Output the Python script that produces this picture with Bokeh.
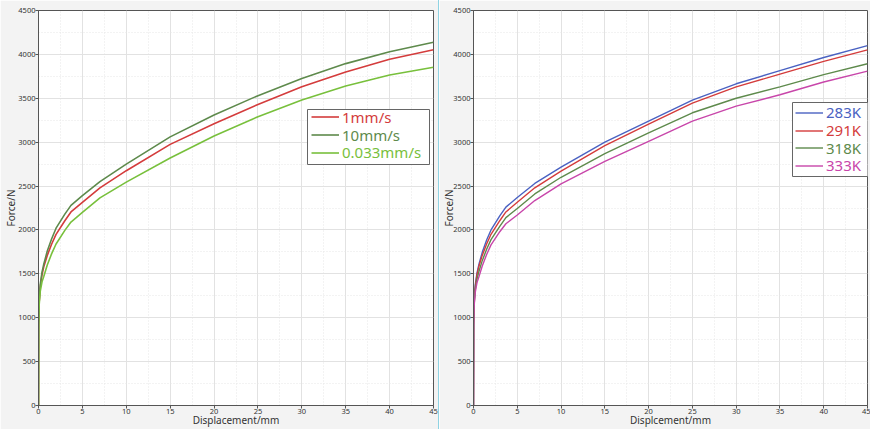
from bokeh.plotting import figure
from bokeh.models import Legend, LegendItem, FixedTicker, Range1d, Div, BoxAnnotation
from bokeh.layouts import row
from bokeh.embed import file_html
from bokeh.resources import INLINE

# ---------------- data ----------------
disp = [0, 0.02, 0.08, 0.2, 0.4, 0.6, 1, 1.5, 2, 3, 3.7, 5, 7, 10, 15, 20, 25, 30, 35, 40, 45]

# left panel: loading rates
f_1mm = [0, 930, 1180, 1350, 1490, 1580, 1710, 1840, 1950, 2105, 2205, 2315, 2480, 2675, 2975, 3210, 3430, 3630, 3800, 3945, 4052]
f_10mm = [0, 950, 1200, 1380, 1520, 1610, 1760, 1900, 2020, 2180, 2280, 2390, 2550, 2750, 3060, 3310, 3530, 3725, 3895, 4030, 4139]
f_0033mm = [0, 900, 1150, 1300, 1410, 1470, 1600, 1730, 1840, 1995, 2090, 2200, 2365, 2545, 2820, 3070, 3290, 3480, 3640, 3765, 3854]
rate_labels = ["1mm/s", "10mm/s", "0.033mm/s"]

# right panel: temperatures
f_283 = [0, 950, 1200, 1375, 1510, 1600, 1745, 1885, 2000, 2160, 2260, 2370, 2530, 2715, 3000, 3240, 3480, 3665, 3815, 3965, 4100]
f_291 = [0, 930, 1180, 1350, 1490, 1580, 1710, 1840, 1950, 2105, 2205, 2315, 2480, 2670, 2960, 3205, 3445, 3630, 3775, 3920, 4052]
f_318 = [0, 920, 1160, 1320, 1440, 1520, 1650, 1780, 1890, 2040, 2140, 2245, 2410, 2600, 2870, 3105, 3335, 3500, 3630, 3770, 3893]
f_333 = [0, 900, 1140, 1290, 1400, 1460, 1590, 1720, 1830, 1980, 2070, 2170, 2335, 2525, 2780, 3010, 3240, 3410, 3540, 3685, 3809]
temp_labels = ["283K", "291K", "318K", "333K"]

x_ticks = [0, 5, 10, 15, 20, 25, 30, 35, 40, 45]
x_minor = [2.5, 7.5, 12.5, 17.5, 22.5, 27.5, 32.5, 37.5, 42.5]
y_ticks = [0, 500, 1000, 1500, 2000, 2500, 3000, 3500, 4000, 4500]
y_minor = [250, 750, 1250, 1750, 2250, 2750, 3250, 3750, 4250]

FONT = "Noto Sans"
BG = "#f3f3f3"


def make_fig(width, left_border, xlabel, ylab_standoff):
    right_border = max(width - left_border - 395, 2)
    p = figure(width=width, height=429, output_backend="svg", toolbar_location=None,
               x_range=Range1d(0, 45), y_range=Range1d(0, 4500),
               min_border_left=left_border, min_border_right=right_border,
               min_border_top=10, min_border_bottom=24)
    p.border_fill_color = BG
    p.background_fill_color = "white"
    p.outline_line_color = "#555555"
    p.outline_line_width = 1
    for ax, ticks, minor in ((p.xaxis[0], x_ticks, x_minor), (p.yaxis[0], y_ticks, y_minor)):
        ax.ticker = FixedTicker(ticks=ticks, minor_ticks=minor)
        ax.major_tick_out = 3
        ax.major_tick_in = 0
        ax.minor_tick_out = 0
        ax.minor_tick_in = 0
        ax.axis_line_color = "#555555"
        ax.major_tick_line_color = "#555555"
        ax.major_label_text_font = FONT
        ax.major_label_text_font_size = "7.5px"
        ax.major_label_text_color = "#333333"
        ax.major_label_standoff = 0
        ax.axis_label_text_font = FONT
        ax.axis_label_text_font_size = "10px"
        ax.axis_label_text_font_style = "normal"
        ax.axis_label_text_color = "#333333"
    p.xaxis[0].axis_label_standoff = -4
    p.yaxis[0].axis_label_standoff = ylab_standoff
    p.xaxis.axis_label = xlabel
    p.yaxis.axis_label = "Force/N"
    for g in (p.xgrid[0], p.ygrid[0]):
        g.grid_line_color = "#e2e2e2"
        g.grid_line_width = 1
        g.minor_grid_line_color = "#e6e6e6"
        g.minor_grid_line_dash = "1 2"
    return p


def add_legend(p, renderers, labels, colors, box, glyph_x, centers, font_size):
    # box: (left, right, bottom, top) in screen px relative to the frame's bottom-left
    l, r, b, t = box
    p.add_layout(BoxAnnotation(left=l, right=r, bottom=b, top=t,
                               left_units="screen", right_units="screen",
                               bottom_units="screen", top_units="screen",
                               fill_color="white", fill_alpha=1,
                               line_color="#666666", line_width=1, line_alpha=1))
    h = 21
    for lab, rend, c, cy in zip(labels, renderers, colors, centers):
        lg = Legend(items=[LegendItem(label=lab, renderers=[rend])],
                    location=(glyph_x, cy - h / 2),
                    label_text_font=FONT, label_text_font_size=font_size,
                    glyph_width=28, glyph_height=h, label_height=h,
                    label_standoff=3, spacing=0, padding=0, margin=0,
                    border_line_alpha=0, background_fill_alpha=0,
                    label_text_color=c)
        p.add_layout(lg)


# ---------------- left panel ----------------
p1 = make_fig(438, 38, "Displacement/mm", -3)
left_series = [f_1mm, f_10mm, f_0033mm]
left_colors = ["#d43c3c", "#5e8a4c", "#78c03c"]
r1 = [p1.line(disp, s, line_color=c, line_width=1.6) for s, c in zip(left_series, left_colors)]
add_legend(p1, r1, rate_labels, left_colors, (269, 391, 241, 296), 273,
           [288.3, 270.5, 252.7], "15px")

# ---------------- right panel ----------------
p2 = make_fig(431, 33, "Displcement/mm", -6)
right_series = [f_283, f_291, f_318, f_333]
right_colors = ["#4a62c2", "#d43c3c", "#5e8a4c", "#c846aa"]
r2 = [p2.line(disp, s, line_color=c, line_width=1.4) for s, c in zip(right_series, right_colors)]
add_legend(p2, r2, temp_labels, right_colors, (319, 395, 229, 303), 322,
           [292.7, 275.0, 257.3, 239.7], "15px")

sep = Div(width=1, height=429, margin=(0, 0, 0, 0),
          styles={"background-color": "#8fd3e3"})

layout = row(p1, sep, p2, spacing=0)
open("out.html", "w").write(file_html(layout, INLINE))
